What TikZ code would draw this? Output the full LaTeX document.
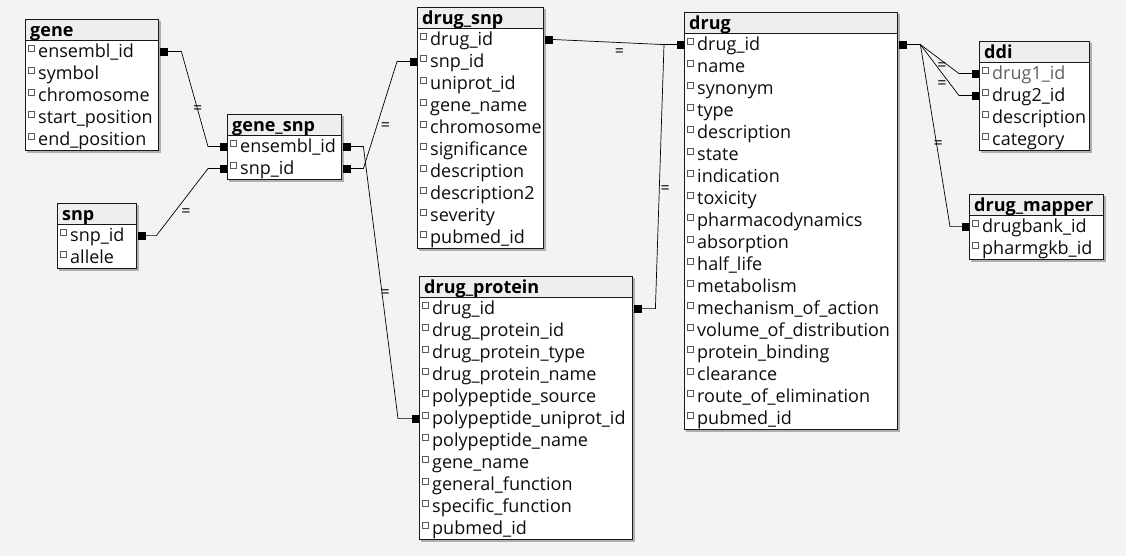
\documentclass[tikz,border=0pt]{standalone}
\usepackage{fontspec}
\setmainfont{Open Sans}
\usetikzlibrary{arrows.meta}

\definecolor{pagebg}{RGB}{243,243,245}
\definecolor{headbg}{RGB}{238,238,238}
\definecolor{boxline}{RGB}{25,25,25}
\definecolor{boxshadow}{RGB}{175,175,178}
\definecolor{checkline}{RGB}{90,90,90}
\definecolor{fieldgrey}{RGB}{95,95,95}

\tikzset{
  sq/.tip={Square[length=7pt,width=8pt]},
  tabhead/.style={draw=boxline, fill=headbg, anchor=north west, inner xsep=0pt, inner ysep=2pt,
    text width=#1, text height=15pt, text depth=2pt, minimum height=21pt,
    execute at begin node=\hspace*{5pt},
    font=\fontsize{18}{21}\selectfont\bfseries, text=black},
  tabrow/.style={fill=white, anchor=north west, inner xsep=0pt, inner ysep=3pt,
    text width=#1, text height=14pt, text depth=2pt, minimum height=22pt,
    execute at begin node=\hspace*{13pt},
    font=\fontsize{18}{21}\selectfont, text=black!95,
    path picture={\draw[checkline, line width=0.6pt, fill=white]
      ([xshift=3.5pt]path picture bounding box.west) rectangle ++(6pt,6pt);}},
  tabframe/.style={draw=boxline, line width=0.8pt},
  tabshadow/.style={draw=boxshadow, line width=2pt},
  link/.style={draw=black, line width=0.7pt, sq-sq, shorten <=2pt},
  eqsign/.style={font=\fontsize{16}{16}\selectfont, inner sep=0pt},
}

\begin{document}
\begin{tikzpicture}[x=1pt, y=-1pt]
  \fill[pagebg] (0,0) rectangle (1126,556);
  \useasboundingbox (0,0) rectangle (1126,556);

  % gene
  \node[tabhead=133pt] (gene) at (25,19) {gene};
  \foreach \f [count=\i] in {ensembl\_id, symbol, chromosome, start\_position, end\_position}
    \node[tabrow=133pt] (gene-\i) at ([yshift={-22*(\i-1)}]gene.south west) {\f};
  \draw[tabframe] (gene.south west) rectangle (gene-5.south east);
  \draw[tabshadow] ([shift={(1.5pt,-2pt)}]gene.north east) |- ([shift={(2pt,-1.5pt)}]gene-5.south west);

  % gene_snp
  \node[tabhead=114pt] (genesnp) at (227,114) {gene\_snp};
  \foreach \f [count=\i] in {ensembl\_id, snp\_id}
    \node[tabrow=114pt] (genesnp-\i) at ([yshift={-22*(\i-1)}]genesnp.south west) {\f};
  \draw[tabframe] (genesnp.south west) rectangle (genesnp-2.south east);
  \draw[tabshadow] ([shift={(1.5pt,-2pt)}]genesnp.north east) |- ([shift={(2pt,-1.5pt)}]genesnp-2.south west);

  % snp
  \node[tabhead=79pt] (snp) at (57,203) {snp};
  \foreach \f [count=\i] in {snp\_id, allele}
    \node[tabrow=79pt] (snp-\i) at ([yshift={-22*(\i-1)}]snp.south west) {\f};
  \draw[tabframe] (snp.south west) rectangle (snp-2.south east);
  \draw[tabshadow] ([shift={(1.5pt,-2pt)}]snp.north east) |- ([shift={(2pt,-1.5pt)}]snp-2.south west);

  % drug_snp
  \node[tabhead=126pt] (drugsnp) at (417,7) {drug\_snp};
  \foreach \f [count=\i] in {drug\_id, snp\_id, uniprot\_id, gene\_name, chromosome,
      significance, description, description2, severity, pubmed\_id}
    \node[tabrow=126pt] (drugsnp-\i) at ([yshift={-22*(\i-1)}]drugsnp.south west) {\f};
  \draw[tabframe] (drugsnp.south west) rectangle (drugsnp-10.south east);
  \draw[tabshadow] ([shift={(1.5pt,-2pt)}]drugsnp.north east) |- ([shift={(2pt,-1.5pt)}]drugsnp-10.south west);

  % drug_protein
  \node[tabhead=213pt] (drugprot) at (419,276) {drug\_protein};
  \foreach \f [count=\i] in {drug\_id, drug\_protein\_id, drug\_protein\_type, drug\_protein\_name,
      polypeptide\_source, polypeptide\_uniprot\_id, polypeptide\_name, gene\_name,
      general\_function, specific\_function, pubmed\_id}
    \node[tabrow=213pt] (drugprot-\i) at ([yshift={-22*(\i-1)}]drugprot.south west) {\f};
  \draw[tabframe] (drugprot.south west) rectangle (drugprot-11.south east);
  \draw[tabshadow] ([shift={(1.5pt,-2pt)}]drugprot.north east) |- ([shift={(2pt,-1.5pt)}]drugprot-11.south west);

  % drug
  \node[tabhead=213pt] (drug) at (684,12) {drug};
  \foreach \f [count=\i] in {drug\_id, name, synonym, type, description, state, indication,
      toxicity, pharmacodynamics, absorption, half\_life, metabolism, mechanism\_of\_action,
      volume\_of\_distribution, protein\_binding, clearance, route\_of\_elimination, pubmed\_id}
    \node[tabrow=213pt] (drug-\i) at ([yshift={-22*(\i-1)}]drug.south west) {\f};
  \draw[tabframe] (drug.south west) rectangle (drug-18.south east);
  \draw[tabshadow] ([shift={(1.5pt,-2pt)}]drug.north east) |- ([shift={(2pt,-1.5pt)}]drug-18.south west);

  % ddi
  \node[tabhead=110pt] (ddi) at (979,41) {ddi};
  \foreach \f [count=\i] in {{\color{fieldgrey}drug1\_id}, drug2\_id, description, category}
    \node[tabrow=110pt] (ddi-\i) at ([yshift={-22*(\i-1)}]ddi.south west) {\f};
  \draw[tabframe] (ddi.south west) rectangle (ddi-4.south east);
  \draw[tabshadow] ([shift={(1.5pt,-2pt)}]ddi.north east) |- ([shift={(2pt,-1.5pt)}]ddi-4.south west);

  % drug_mapper
  \node[tabhead=134pt] (mapper) at (969,194) {drug\_mapper};
  \foreach \f [count=\i] in {drugbank\_id, pharmgkb\_id}
    \node[tabrow=134pt] (mapper-\i) at ([yshift={-22*(\i-1)}]mapper.south west) {\f};
  \draw[tabframe] (mapper.south west) rectangle (mapper-2.south east);
  \draw[tabshadow] ([shift={(1.5pt,-2pt)}]mapper.north east) |- ([shift={(2pt,-1.5pt)}]mapper-2.south west);

  % relations
  \draw[link] (gene-1.east) -- ++(23,0) -- ([xshift=-19pt]genesnp-1.west)
    node[eqsign, pos=0.61] {=} -- (genesnp-1.west);
  \draw[link] (snp-1.east) -- ++(20,0) -- ([xshift=-19pt]genesnp-2.west)
    node[eqsign, pos=0.34, xshift=12pt] {=} -- (genesnp-2.west);
  \draw[link] (genesnp-2.east) -- ++(22,0) -- ([xshift=-20pt]drugsnp-2.west)
    node[eqsign, pos=0.39, xshift=9pt] {=} -- (drugsnp-2.west);
  \draw[link] (genesnp-1.east) -- ++(22,0) -- ([xshift=-21pt]drugprot-6.west)
    node[eqsign, pos=0.54, xshift=3pt] {=} -- (drugprot-6.west);
  \draw[link] (drugsnp-1.east) -- ++(12,0) -- ([xshift=-20pt]drug-1.west)
    node[eqsign, pos=0.59, yshift=-10pt] {=} -- (drug-1.west);
  \draw[link] (drugprot-1.east) -- ++(23,0) -- ([xshift=-20pt]drug-1.west)
    node[eqsign, pos=0.45, xshift=6pt] {=} -- (drug-1.west);
  \draw[link] (drug-1.east) -- ++(23,0) -- ([xshift=-20pt]ddi-1.west)
    node[eqsign, pos=0.56, yshift=-6pt] {=} -- (ddi-1.west);
  \draw[link] (drug-1.east) -- ++(23,0) -- ([xshift=-20pt]ddi-2.west)
    node[eqsign, pos=0.56, yshift=-11pt] {=} -- (ddi-2.west);
  \draw[link] (drug-1.east) -- ++(23,0) -- ([xshift=-19pt]mapper-1.west)
    node[eqsign, pos=0.55, xshift=1.5pt] {=} -- (mapper-1.west);
\end{tikzpicture}
\end{document}
